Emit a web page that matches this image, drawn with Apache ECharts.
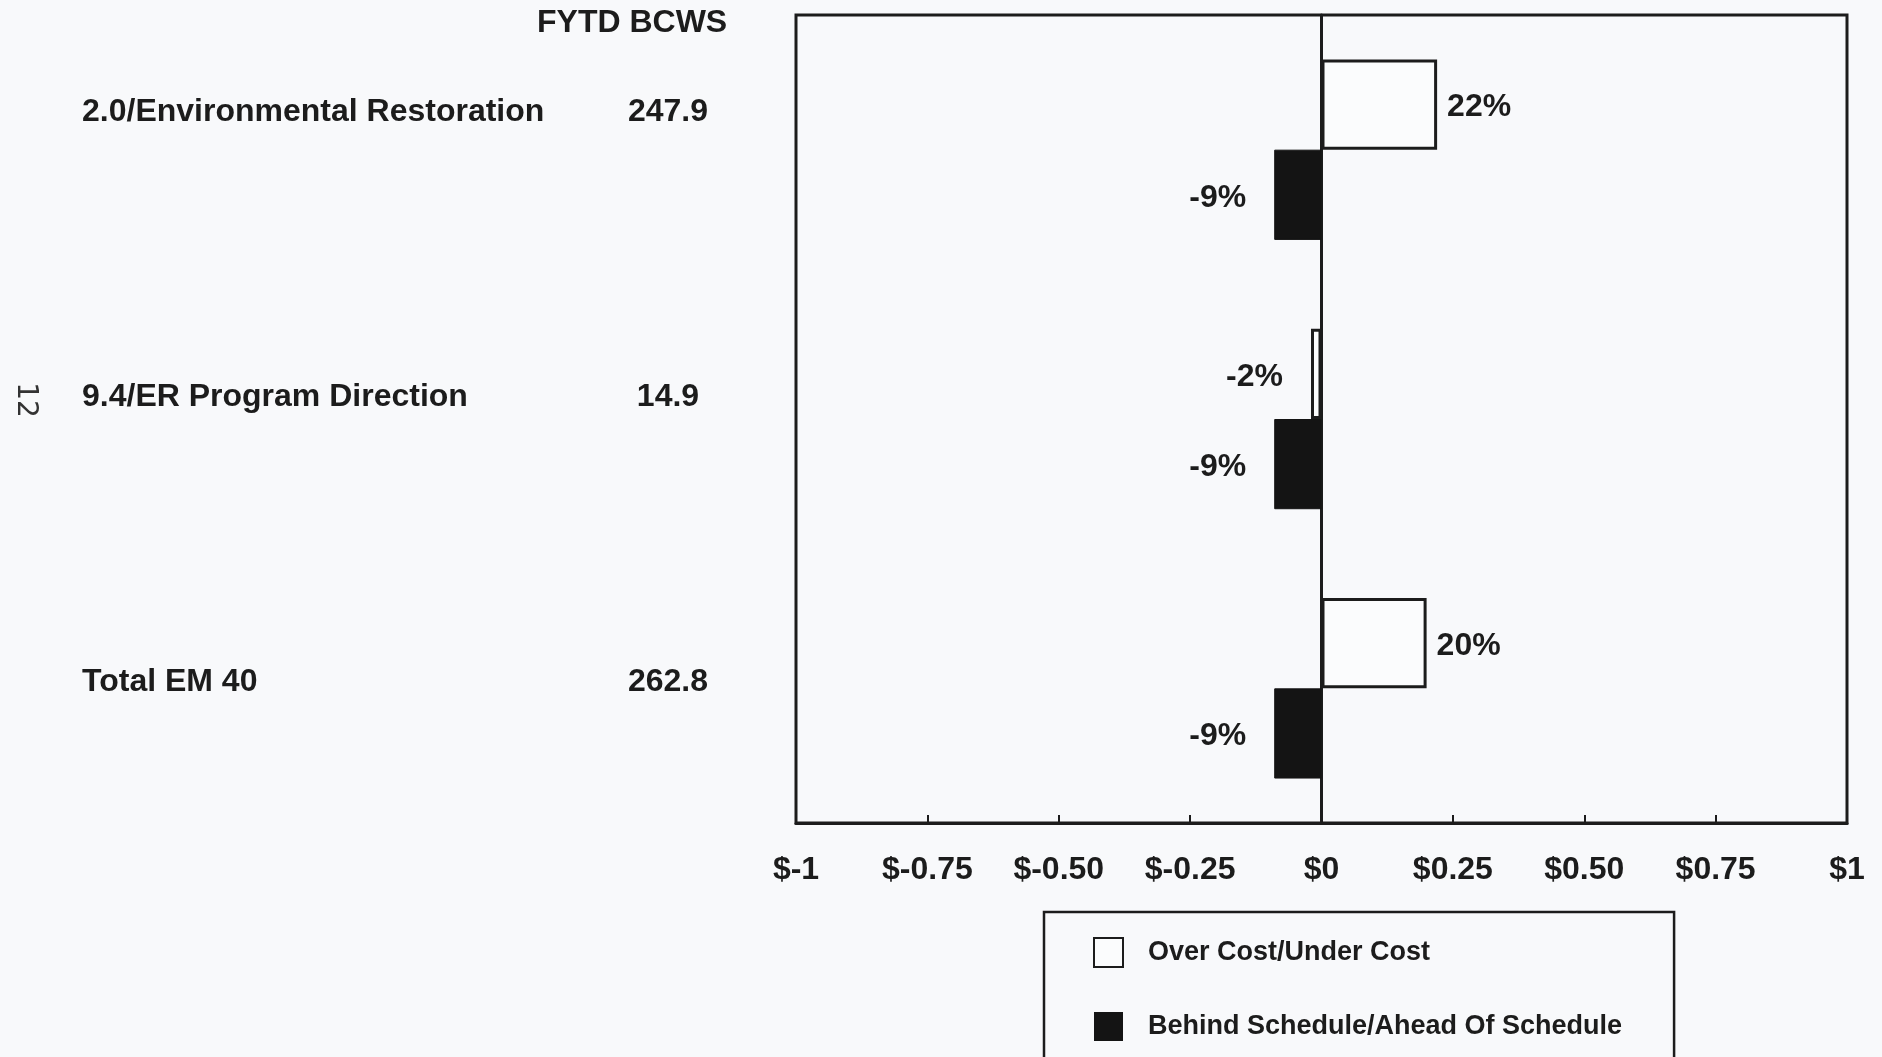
<!DOCTYPE html>
<html>
<head>
<meta charset="utf-8">
<title>Cost and Schedule Variance</title>
<script src="https://cdn.jsdelivr.net/npm/echarts@6/dist/echarts.min.js"></script>
<style>
  html, body { margin: 0; padding: 0; background: #f8f9fb; }
  #chart { width: 1882px; height: 1057px; }
</style>
</head>
<body>
<div id="chart"></div>
<script>
// data
const categories = ["2.0/Environmental Restoration", "9.4/ER Program Direction", "Total EM 40"]
const fytdBcws = ["247.9", "14.9", "262.8"]
const costVariance = [0.22, -0.02, 0.20]
const scheduleVariance = [-0.09, -0.09, -0.09]
const tickLabels = ["$-1", "$-0.75", "$-0.50", "$-0.25", "$0", "$0.25", "$0.50", "$0.75", "$1"]

const ink = "#1c1c1c"
const font = "Liberation Sans"

// label goes on the side the bar points to
const withLabels = (values) =>
  values.map((v) => ({
    value: v,
    label: {
      position: v < 0 ? "left" : "right",
      distance: v < 0 ? 28 : 10
    }
  }))

const barLabel = {
  show: true,
  color: ink,
  fontFamily: font,
  fontWeight: "bold",
  fontSize: 32,
  offset: [0, 3],
  formatter: (p) => Math.round(p.value * 100) + "%"
}

const chart = echarts.init(document.getElementById("chart"))

chart.setOption({
  backgroundColor: "#f8f9fb",
  animation: false,
  textStyle: { fontFamily: font },
  title: {
    text: "FYTD BCWS",
    left: 537,
    top: 7,
    padding: 0,
    textStyle: { color: ink, fontFamily: font, fontWeight: "bold", fontSize: 32 }
  },
  legend: {
    orient: "vertical",
    left: 1044,
    top: 912,
    height: 110,
    padding: [25, 52, 30, 49],
    borderColor: ink,
    borderWidth: 2.5,
    itemWidth: 29,
    itemHeight: 29,
    itemGap: 44,
    icon: "rect",
    textStyle: {
      color: ink,
      fontFamily: font,
      fontWeight: "bold",
      fontSize: 27,
      lineHeight: 29,
      padding: [0, 0, 0, 20]
    },
    data: [
      { name: "Over Cost/Under Cost", itemStyle: { color: "#fbfcfd", borderColor: ink, borderWidth: 2 } },
      { name: "Behind Schedule/Ahead Of Schedule", itemStyle: { color: "#141414", borderWidth: 0 } }
    ]
  },
  grid: [
    {
      left: 796,
      right: 35,
      top: 15,
      bottom: 234,
      show: true,
      borderColor: ink,
      borderWidth: 3,
      backgroundColor: "transparent",
      outerBoundsMode: "none"
    },
    {
      // table at the left: names and FYTD BCWS
      left: 70,
      width: 10,
      top: 112,
      height: 570,
      outerBoundsMode: "none"
    }
  ],
  xAxis: [
    {
      type: "value",
      min: -1,
      max: 1,
      interval: 0.25,
      splitLine: { show: false },
      axisLine: { show: true, lineStyle: { color: ink, width: 3 } },
      axisTick: { show: true, inside: true, length: 8, lineStyle: { color: ink, width: 2 } },
      axisLabel: {
        showMinLabel: true,
        showMaxLabel: true,
        margin: 31,
        color: ink,
        fontFamily: font,
        fontWeight: "bold",
        fontSize: 32,
        formatter: (v) => tickLabels[Math.round((v + 1) / 0.25)]
      }
    },
    { gridIndex: 1, type: "value", show: false }
  ],
  yAxis: [
    {
      type: "category",
      data: categories,
      inverse: true,
      axisLine: { onZero: true, lineStyle: { color: ink, width: 3 } },
      axisTick: { inside: true, length: 15, lineStyle: { color: ink, width: 2 } },
      axisLabel: { show: false },
      splitLine: { show: false }
    },
    {
      gridIndex: 1,
      type: "category",
      data: categories,
      inverse: true,
      boundaryGap: false,
      position: "right",
      axisLine: { show: false },
      axisTick: { show: false },
      axisLabel: { margin: 2, color: ink, fontFamily: font, fontWeight: "bold", fontSize: 32 }
    },
    {
      gridIndex: 1,
      type: "category",
      data: fytdBcws,
      inverse: true,
      boundaryGap: false,
      position: "right",
      offset: 580,
      axisLine: { show: false },
      axisTick: { show: false },
      axisLabel: { margin: 8, align: "center", color: ink, fontFamily: font, fontWeight: "bold", fontSize: 32 }
    }
  ],
  graphic: [
    {
      type: "text",
      x: 25,
      y: 400,
      rotation: -Math.PI / 2,
      style: {
        text: "12",
        fill: "#333",
        font: "28px 'DejaVu Sans'",
        textAlign: "center",
        textVerticalAlign: "middle"
      }
    }
  ],
  series: [
    {
      name: "Over Cost/Under Cost",
      type: "bar",
      data: withLabels(costVariance),
      barGap: "0%",
      barCategoryGap: "33%",
      itemStyle: { color: "#fbfcfd", borderColor: ink, borderWidth: 3 },
      label: barLabel
    },
    {
      name: "Behind Schedule/Ahead Of Schedule",
      type: "bar",
      data: withLabels(scheduleVariance),
      barGap: "0%",
      barCategoryGap: "33%",
      itemStyle: { color: "#141414", borderColor: "#141414", borderWidth: 1 },
      label: barLabel
    }
  ]
})
</script>
</body>
</html>
